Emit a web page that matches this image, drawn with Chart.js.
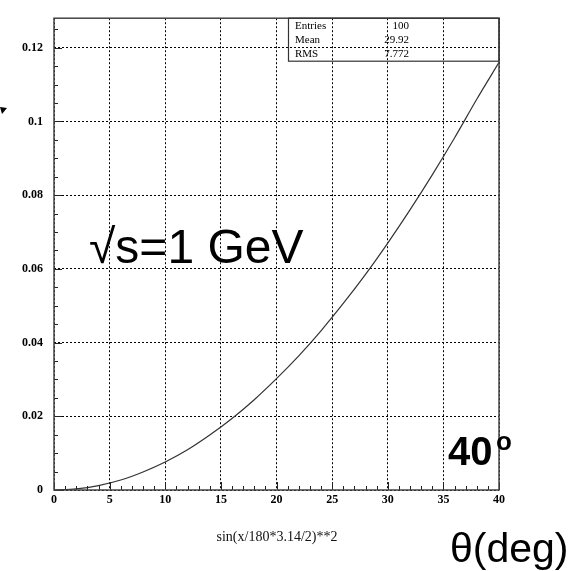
<!DOCTYPE html>
<html>
<head>
<meta charset="utf-8">
<script src="https://cdn.jsdelivr.net/npm/chart.js@4.4.1/dist/chart.umd.min.js"></script>
<style>
  html, body { margin: 0; padding: 0; background: #fff; }
  #wrap { width: 575px; height: 571px; }
</style>
</head>
<body>
<div id="wrap"><canvas id="grafico" width="575" height="571"></canvas></div>
<script>
// dados
const angulos = [0, 2, 4, 6, 8, 10, 12, 14, 16, 18, 20, 22, 24, 26, 28, 30, 32, 34, 36, 38, 40];
const valores = [0, 0.0003, 0.0012, 0.0027, 0.0049, 0.0076, 0.0109, 0.0149, 0.0194, 0.0245, 0.0302,
                 0.0364, 0.0432, 0.0506, 0.0585, 0.0670, 0.0760, 0.0855, 0.0955, 0.1060, 0.1160];

// ticks dos eixos
const xTicks = [0, 5, 10, 15, 20, 25, 30, 35, 40];
const yTicks = [0, 0.02, 0.04, 0.06, 0.08, 0.1, 0.12];
const yLabels = ["0", "0.02", "0.04", "0.06", "0.08", "0.1", "0.12"];

// caixa de estatísticas
const statNomes = ["Entries", "Mean", "RMS"];
const statValores = ["100", "29.92", "7.772"];

const tituloX = "sin(x/180*3.14/2)**2";

const pontos = angulos.map((a, i) => ({ x: a, y: valores[i] }));

// Plugin para moldura, ticks menores e textos
const extras = {
    id: 'extras',
    afterDraw(chart) {
        const c = chart.ctx;
        const area = chart.chartArea;
        const sx = chart.scales.x;
        const sy = chart.scales.y;
        c.save();

        // ticks menores
        c.strokeStyle = '#222';
        c.lineWidth = 1;
        c.beginPath();
        for (let v = 0; v <= 40; v += 1) {
            const px = Math.round(sx.getPixelForValue(v)) + 0.5;
            const len = v % 5 === 0 ? 8 : 4;
            c.moveTo(px, area.bottom);
            c.lineTo(px, area.bottom - len);
        }
        for (let k = 0; k <= 25; k++) {
            const v = k * 0.005;
            if (v > sy.max) break;
            const py = Math.round(sy.getPixelForValue(v)) + 0.5;
            const len = k % 4 === 0 ? 8 : 4;
            c.moveTo(area.left, py);
            c.lineTo(area.left + len, py);
        }
        c.stroke();

        // moldura
        c.strokeStyle = '#444';
        c.lineWidth = 1.5;
        c.strokeRect(area.left, area.top, area.right - area.left, area.bottom - area.top);

        // caixa de estatísticas
        c.lineWidth = 1.2;
        c.strokeStyle = '#333';
        c.strokeRect(288.5, area.top, area.right - 288.5, 43);
        c.fillStyle = '#000';
        c.font = '11px "Liberation Serif", "Times New Roman", serif';
        c.textBaseline = 'middle';
        statNomes.forEach((n, i) => {
            const yy = area.top + 7.5 + i * 14;
            c.textAlign = 'left';
            c.fillText(n, 295, yy);
            c.textAlign = 'right';
            c.fillText(statValores[i], 409, yy);
        });

        // título do eixo x
        c.fillStyle = '#111';
        c.textAlign = 'center';
        c.textBaseline = 'middle';
        c.font = '14px "Liberation Serif", "Times New Roman", serif';
        c.fillText(tituloX, 277, 537);

        // textos grandes
        c.fillStyle = '#000';
        c.textAlign = 'left';
        c.textBaseline = 'alphabetic';
        c.font = '48px "Liberation Sans", Arial, sans-serif';
        c.fillText('√s=1 GeV', 89, 263);

        c.font = 'bold 40px "Liberation Sans", Arial, sans-serif';
        c.fillText('40', 448, 465);
        c.font = 'bold 26px "Liberation Sans", Arial, sans-serif';
        c.fillText('o', 496, 450);

        c.font = '41px "Liberation Sans", Arial, sans-serif';
        c.fillText('θ(deg)', 450, 562);

        // ponta de seta à esquerda
        c.beginPath();
        c.moveTo(0, 107);
        c.lineTo(7, 108);
        c.lineTo(2, 114);
        c.closePath();
        c.fill();

        c.restore();
    }
};

const ctx = document.getElementById('grafico').getContext('2d');

const grafico = new Chart(ctx, {
    type: 'line',
    data: {
        datasets: [{
            data: pontos,
            borderColor: '#333',
            borderWidth: 1.2,
            pointRadius: 0,
            fill: false,
            cubicInterpolationMode: 'monotone'
        }]
    },
    options: {
        responsive: false,
        animation: false,
        events: [],
        layout: { padding: { left: 0, top: 8, right: 76, bottom: 0 } },
        plugins: {
            legend: { display: false },
            tooltip: { enabled: false }
        },
        scales: {
            x: {
                type: 'linear',
                min: 0,
                max: 40,
                afterFit: (s) => { s.height = 81; },
                afterBuildTicks: (s) => { s.ticks = xTicks.map(v => ({ value: v })); },
                grid: {
                    color: '#000',
                    lineWidth: 1,
                    drawTicks: false
                },
                border: { display: false, dash: [2, 2] },
                ticks: {
                    padding: 3,
                    color: '#000',
                    maxRotation: 0,
                    font: { family: '"Liberation Serif", "Times New Roman", serif', size: 12, weight: 'bold' }
                }
            },
            y: {
                type: 'linear',
                min: 0,
                max: 0.128,
                afterFit: (s) => { s.width = 54; },
                afterBuildTicks: (s) => { s.ticks = yTicks.map(v => ({ value: v })); },
                grid: {
                    color: '#000',
                    lineWidth: 1,
                    drawTicks: false
                },
                border: { display: false, dash: [2, 2] },
                ticks: {
                    padding: 11,
                    color: '#000',
                    font: { family: '"Liberation Serif", "Times New Roman", serif', size: 12, weight: 'bold' },
                    callback: (v, i) => yLabels[i]
                }
            }
        }
    },
    plugins: [extras]
});
</script>
</body>
</html>
